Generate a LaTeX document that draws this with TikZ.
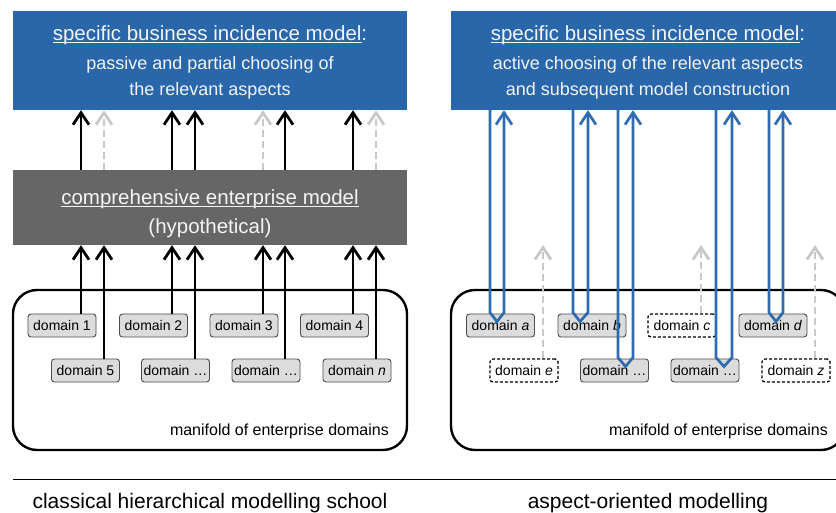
\documentclass[tikz,border=0pt]{standalone}
\usepackage{fontspec}
\setmainfont{Liberation Sans}
\usetikzlibrary{arrows.meta,calc}

\definecolor{boxblue}{HTML}{2A66AA}
\definecolor{loopblue}{HTML}{2E6BB0}
\definecolor{modelgray}{HTML}{666666}
\definecolor{domfill}{HTML}{DCDCDC}
\definecolor{hintgray}{HTML}{C8C8C8}
\definecolor{paletext}{HTML}{F4F4F4}

% underline sitting just below the baseline
\newcommand{\ulined}[1]{\setbox0\hbox{#1}\rlap{\rule[-2.2pt]{\wd0}{0.9pt}}\box0}

\tikzset{
  x=1pt, y=-1pt,
  barb/.tip={Straight Barb[length=12pt,width=16pt]},
  topbox/.style={rectangle, fill=boxblue, text=paletext, minimum width=394pt,
    minimum height=99pt, inner sep=0pt, align=center,
    font=\fontsize{18}{26}\selectfont},
  modelbox/.style={rectangle, fill=modelgray, text=paletext, minimum width=394pt,
    minimum height=75pt, inner sep=0pt, align=center,
    font=\fontsize{20.5}{29}\selectfont},
  manifold/.style={rectangle, draw=black, line width=2.4pt, rounded corners=24pt,
    minimum width=394pt, minimum height=160pt, inner sep=0pt},
  manitext/.style={anchor=base east, font=\fontsize{16}{18}\selectfont, inner sep=0pt},
  dom/.style={rectangle, rounded corners=3pt, draw=black!70, fill=domfill,
    line width=0.9pt, minimum width=68pt, minimum height=23pt, inner sep=0pt,
    font=\fontsize{14}{16}\selectfont},
  domopen/.style={dom, fill=white, draw=black, line width=1.3pt,
    dash pattern=on 3pt off 2pt},
  solidarrow/.style={draw=black, line width=2.8pt, -barb},
  hintarrow/.style={draw=hintgray, line width=2.8pt, dash pattern=on 7pt off 4pt, -barb},
  loopline/.style={draw=loopblue, line width=2.7pt, line join=miter, -barb},
  caption/.style={anchor=base, font=\fontsize{21}{24}\selectfont, inner sep=0pt},
}

\begin{document}
\begin{tikzpicture}
\clip (0,0) rectangle (836,513);
\fill[white] (0,0) rectangle (836,513);

% ---------------- classical hierarchical modelling school ----------------
\node[topbox] (topL) at (210,60.5)
  {{\fontsize{20.5}{24}\selectfont\rule{0pt}{19pt}\ulined{specific business incidence model}:}\\[3pt]
   passive and partial choosing of\\ the relevant aspects};
\node[modelbox] (cem) at (210,207.5)
  {\rule{0pt}{27pt}\ulined{comprehensive enterprise model}\\(hypothetical)};
\node[manifold] (mL) at (210,370) {};
\node[manitext] (mtL) at (389,435) {manifold of enterprise domains};

\node[dom] (d1) at (62,325.5)  {domain 1};
\node[dom] (d2) at (153.5,325.5) {domain 2};
\node[dom] (d3) at (244,325.5) {domain 3};
\node[dom] (d4) at (334.5,325.5) {domain 4};
\node[dom] (d5) at (85.5,370.5) {domain 5};
\node[dom] (d6) at (175.5,370.5) {domain …};
\node[dom] (d7) at (266,370.5) {domain …};
\node[dom] (d8) at (357,370.5) {domain \textit{n}};

% domains feed the comprehensive model
\draw[solidarrow] (d1.north -| 81,0)  -- (cem.south -| 81,0);
\draw[solidarrow] (d5.north -| 104,0) -- (cem.south -| 104,0);
\draw[solidarrow] (d2.north -| 172,0) -- (cem.south -| 172,0);
\draw[solidarrow] (d6.north -| 195,0) -- (cem.south -| 195,0);
\draw[solidarrow] (d3.north -| 263,0) -- (cem.south -| 263,0);
\draw[solidarrow] (d7.north -| 285,0) -- (cem.south -| 285,0);
\draw[solidarrow] (d4.north -| 353,0) -- (cem.south -| 353,0);
\draw[solidarrow] (d8.north -| 376,0) -- (cem.south -| 376,0);

% partial choosing out of the comprehensive model
\draw[solidarrow] (cem.north -| 81,0)  -- (topL.south -| 81,0);
\draw[hintarrow]  (cem.north -| 104,0) -- (topL.south -| 104,0);
\draw[solidarrow] (cem.north -| 172,0) -- (topL.south -| 172,0);
\draw[solidarrow] (cem.north -| 195,0) -- (topL.south -| 195,0);
\draw[hintarrow]  (cem.north -| 263,0) -- (topL.south -| 263,0);
\draw[solidarrow] (cem.north -| 285,0) -- (topL.south -| 285,0);
\draw[solidarrow] (cem.north -| 353,0) -- (topL.south -| 353,0);
\draw[hintarrow]  (cem.north -| 376,0) -- (topL.south -| 376,0);

% ---------------- aspect-oriented modelling ----------------
\node[topbox] (topR) at (648,60.5)
  {{\fontsize{20.5}{24}\selectfont\rule{0pt}{19pt}\ulined{specific business incidence model}:}\\[3pt]
   active choosing of the relevant aspects\\ and subsequent model construction};
\node[manifold] (mR) at (648,370) {};
\node[manitext] (mtR) at (828,435) {manifold of enterprise domains};

\node[dom]     (da) at (500.5,325.5) {domain \textit{a}};
\node[dom]     (db) at (592,325.5)   {domain \textit{b}};
\node[domopen] (dc) at (682,325.5)   {domain \textit{c}};
\node[dom]     (dd) at (773,325.5)   {domain \textit{d}};
\node[domopen] (de) at (524,370.5)   {domain \textit{e}};
\node[dom]     (df) at (614.5,370.5) {domain …};
\node[dom]     (dg) at (705,370.5)   {domain …};
\node[domopen] (dz) at (796,370.5)   {domain \textit{z}};

% active selection loops: down into a domain and back up
\draw[loopline] (topR.south -| 490,0) -- ($(490,0 |- da.north)+(0,-1)$)
  -- ($(497,0 |- da.north)+(0,8)$) -- ($(504,0 |- da.north)+(0,-1)$)
  -- (topR.south -| 504,0);
\draw[loopline] (topR.south -| 573,0) -- ($(573,0 |- db.north)+(0,-1)$)
  -- ($(580,0 |- db.north)+(0,8)$) -- ($(588,0 |- db.north)+(0,-1)$)
  -- (topR.south -| 588,0);
\draw[loopline] (topR.south -| 618,0) -- ($(618,0 |- df.north)+(0,-1)$)
  -- ($(625.5,0 |- df.north)+(0,8)$) -- ($(633,0 |- df.north)+(0,-1)$)
  -- (topR.south -| 633,0);
\draw[loopline] (topR.south -| 716,0) -- ($(716,0 |- dg.north)+(0,-1)$)
  -- ($(724,0 |- dg.north)+(0,8)$) -- ($(732,0 |- dg.north)+(0,-1)$)
  -- (topR.south -| 732,0);
\draw[loopline] (topR.south -| 769,0) -- ($(769,0 |- dd.north)+(0,-1)$)
  -- ($(776,0 |- dd.north)+(0,8)$) -- ($(783,0 |- dd.north)+(0,-1)$)
  -- (topR.south -| 783,0);

% unused domains, hinted only
\coordinate (hE) at (543,245);
\coordinate (hC) at (701,245);
\coordinate (hZ) at (815,245);
\draw[hintarrow] (de.north -| hE) -- (hE);
\draw[hintarrow] (dc.north -| hC) -- (hC);
\draw[hintarrow] (dz.north -| hZ) -- (hZ);

% ---------------- captions ----------------
\coordinate (sepA) at (13,479.5);
\coordinate (sepB) at (836,479.5);
\draw[line width=1.6pt] (sepA) -- (sepB);
\node[caption] (capL) at (210,508) {classical hierarchical modelling school};
\node[caption] (capR) at (648,508) {aspect-oriented modelling};
\end{tikzpicture}
\end{document}
